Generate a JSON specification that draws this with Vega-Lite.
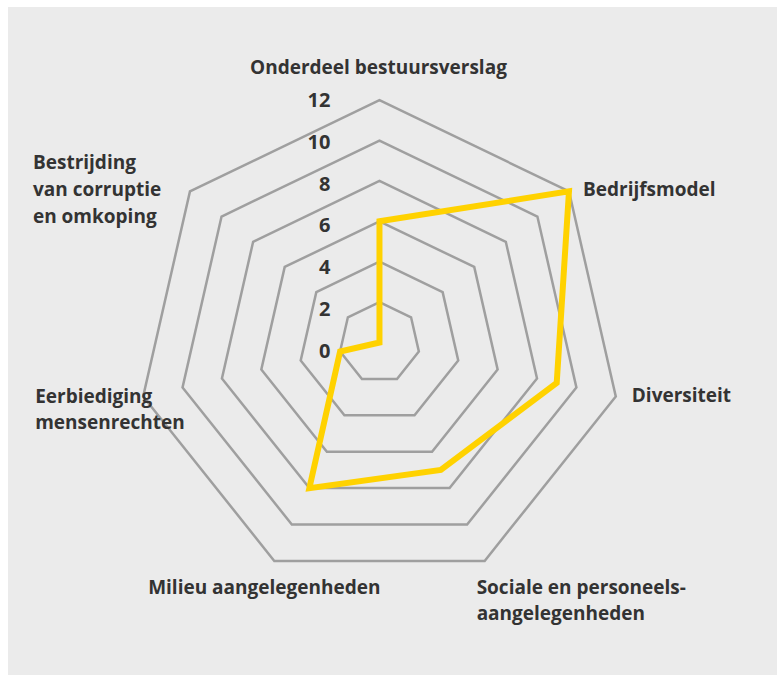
{
  "$schema": "https://vega.github.io/schema/vega-lite/v6.json",
  "width": 769,
  "height": 668,
  "autosize": "none",
  "padding": {"left": 8, "top": 7, "right": 0, "bottom": 0},
  "background": "#ffffff",
  "config": {
    "view": {"fill": "#ebebeb", "stroke": null},
    "text": {"font": "Open Sans", "fontWeight": "bold", "fontSize": 19, "color": "#333333"}
  },
  "datasets": {
    "scores": [
      {"onderdeel": "Onderdeel bestuursverslag", "label": "Onderdeel bestuursverslag", "aantal": 6},
      {"onderdeel": "Bedrijfsmodel", "label": "Bedrijfsmodel", "aantal": 12},
      {"onderdeel": "Diversiteit", "label": "Diversiteit", "aantal": 9},
      {"onderdeel": "Sociale en personeelsaangelegenheden", "label": "Sociale en personeels-\naangelegenheden", "aantal": 7},
      {"onderdeel": "Milieu aangelegenheden", "label": "Milieu aangelegenheden", "aantal": 8},
      {"onderdeel": "Eerbiediging mensenrechten", "label": "Eerbiediging\nmensenrechten", "aantal": 2},
      {"onderdeel": "Bestrijding van corruptie en omkoping", "label": "Bestrijding\nvan corruptie\nen omkoping", "aantal": 0}
    ],
    "rings": [
      {"ring": 2, "k": [0, 1, 2, 3, 4, 5, 6]},
      {"ring": 4, "k": [0, 1, 2, 3, 4, 5, 6]},
      {"ring": 6, "k": [0, 1, 2, 3, 4, 5, 6]},
      {"ring": 8, "k": [0, 1, 2, 3, 4, 5, 6]},
      {"ring": 10, "k": [0, 1, 2, 3, 4, 5, 6]},
      {"ring": 12, "k": [0, 1, 2, 3, 4, 5, 6]}
    ],
    "ticks": [
      {"tick": 0}, {"tick": 2}, {"tick": 4}, {"tick": 6}, {"tick": 8}, {"tick": 10}, {"tick": 12}
    ]
  },
  "resolve": {"scale": {"y": "independent"}},
  "layer": [
    {
      "data": {"name": "rings"},
      "transform": [
        {"flatten": ["k"]},
        {"calculate": "datum.k * 2 * PI / 7", "as": "theta"},
        {"calculate": "datum.ring * sin(datum.theta)", "as": "px"},
        {"calculate": "datum.ring * cos(datum.theta)", "as": "py"}
      ],
      "mark": {"type": "line", "interpolate": "linear-closed", "color": "#9f9f9f", "strokeWidth": 2.5},
      "encoding": {
        "x": {"field": "px", "type": "quantitative", "scale": {"domain": [-18.39, 19.68], "nice": false, "zero": false}, "axis": null},
        "y": {"field": "py", "type": "quantitative", "scale": {"domain": [-16.46, 16.61], "nice": false, "zero": false}, "axis": null},
        "detail": {"field": "ring", "type": "nominal"},
        "order": {"field": "k", "type": "quantitative"}
      }
    },
    {
      "data": {"name": "ticks"},
      "mark": {"type": "text", "align": "right", "baseline": "middle", "dx": -49, "fontSize": 20},
      "encoding": {
        "x": {"datum": 0, "type": "quantitative", "scale": {"domain": [-18.39, 19.68], "nice": false, "zero": false}, "axis": null},
        "y": {"field": "tick", "type": "quantitative", "scale": {"domain": [-15.44, 16.49], "nice": false, "zero": false}, "axis": null},
        "text": {"field": "tick", "type": "quantitative"}
      }
    },
    {
      "data": {"name": "scores"},
      "transform": [
        {"window": [{"op": "row_number", "as": "rn"}]},
        {"calculate": "(datum.rn - 1) * 2 * PI / 7", "as": "theta"},
        {"calculate": "datum.aantal * sin(datum.theta)", "as": "px"},
        {"calculate": "datum.aantal * cos(datum.theta)", "as": "py"},
        {"calculate": "12 * sin(datum.theta)", "as": "lx"},
        {"calculate": "12 * cos(datum.theta)", "as": "ly"}
      ],
      "encoding": {
        "x": {"field": "lx", "type": "quantitative", "scale": {"domain": [-18.39, 19.68], "nice": false, "zero": false}, "axis": null},
        "y": {"field": "ly", "type": "quantitative", "scale": {"domain": [-16.46, 16.61], "nice": false, "zero": false}, "axis": null},
        "text": {"field": "label", "type": "nominal"}
      },
      "layer": [
        {
          "mark": {"type": "line", "interpolate": "linear-closed", "color": "#ffd200", "strokeWidth": 6, "strokeJoin": "miter"},
          "encoding": {
            "x": {"field": "px", "type": "quantitative", "scale": {"domain": [-18.39, 19.68], "nice": false, "zero": false}, "axis": null},
            "y": {"field": "py", "type": "quantitative", "scale": {"domain": [-16.46, 16.61], "nice": false, "zero": false}, "axis": null},
            "order": {"field": "rn", "type": "quantitative"},
            "text": null
          }
        },
        {
          "transform": [{"filter": "datum.onderdeel == 'Onderdeel bestuursverslag'"}],
          "mark": {"type": "text", "align": "center", "baseline": "middle", "dx": -1, "dy": -32}
        },
        {
          "transform": [{"filter": "datum.onderdeel == 'Bedrijfsmodel'"}],
          "mark": {"type": "text", "align": "left", "baseline": "middle", "dx": 14, "dy": -1}
        },
        {
          "transform": [{"filter": "datum.onderdeel == 'Diversiteit'"}],
          "mark": {"type": "text", "align": "left", "baseline": "middle", "dx": 16, "dy": 0}
        },
        {
          "transform": [{"filter": "datum.onderdeel == 'Sociale en personeelsaangelegenheden'"}],
          "mark": {"type": "text", "align": "left", "baseline": "middle", "dx": -8, "dy": 27, "lineBreak": "\n", "lineHeight": 26}
        },
        {
          "transform": [{"filter": "datum.onderdeel == 'Milieu aangelegenheden'"}],
          "mark": {"type": "text", "align": "center", "baseline": "middle", "dx": -10, "dy": 27}
        },
        {
          "transform": [{"filter": "datum.onderdeel == 'Eerbiediging mensenrechten'"}],
          "mark": {"type": "text", "align": "left", "baseline": "middle", "dx": -108, "dy": 1, "lineBreak": "\n", "lineHeight": 26}
        },
        {
          "transform": [{"filter": "datum.onderdeel == 'Bestrijding van corruptie en omkoping'"}],
          "mark": {"type": "text", "align": "left", "baseline": "middle", "dx": -157, "dy": -28, "lineBreak": "\n", "lineHeight": 27}
        }
      ]
    }
  ]
}
